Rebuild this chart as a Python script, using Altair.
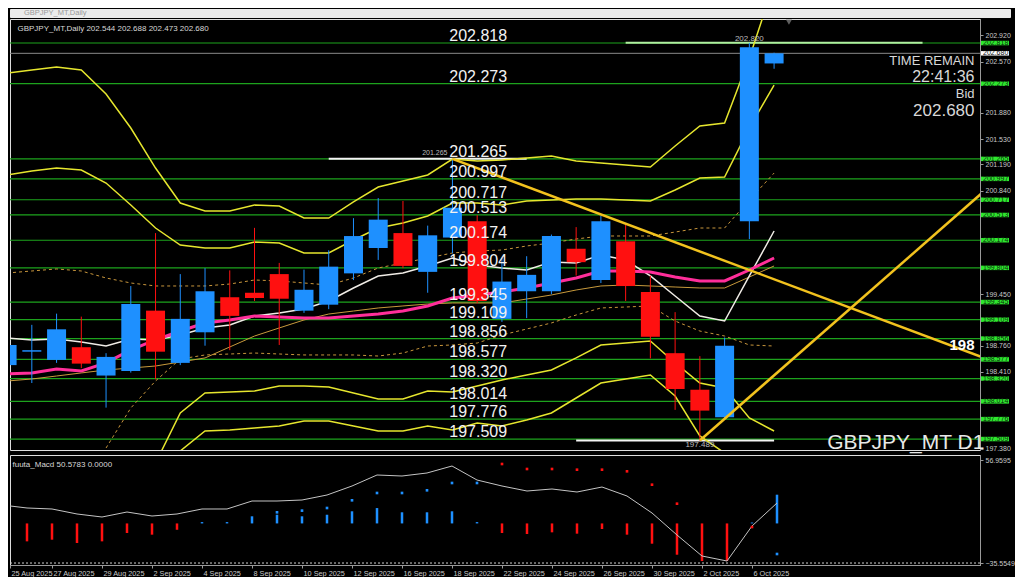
import altair as alt
import pandas as pd

# ---------------- data ----------------
idx = list(range(32))
x_labels = ["25 Aug 2025", "27 Aug 2025", "29 Aug 2025", "2 Sep 2025", "4 Sep 2025",
            "8 Sep 2025", "10 Sep 2025", "12 Sep 2025", "16 Sep 2025", "18 Sep 2025",
            "22 Sep 2025", "24 Sep 2025", "26 Sep 2025", "30 Sep 2025", "2 Oct 2025", "6 Oct 2025"]
x_label_pos = [0.32] + list(range(2, 31, 2))

opens = [198.50, 198.68, 198.57, 198.74, 198.36, 198.42, 199.23, 198.53, 198.94, 199.41, 199.47,
         199.72, 199.23, 199.31, 199.73, 200.07, 200.27, 199.75, 200.21, 200.43, 199.12, 199.49,
         199.49, 200.06, 199.64, 200.16, 199.48, 198.66, 198.17, 197.80, 200.43, 202.544]
highs = [198.85, 199.04, 199.19, 199.15, 198.66, 199.56, 200.27, 199.72, 199.80, 199.77, 200.34,
         199.87, 199.78, 200.04, 200.47, 200.74, 200.70, 200.37, 201.265, 200.51, 199.94, 199.96,
         200.25, 200.35, 200.50, 200.38, 199.70, 199.21, 198.62, 198.87, 202.820, 202.688]
lows = [198.45, 198.26, 198.53, 198.46, 197.93, 198.40, 198.31, 198.50, 198.76, 198.70, 199.36,
        198.77, 199.20, 199.25, 199.64, 199.91, 199.80, 199.47, 200.00, 199.33, 199.08, 199.13,
        199.45, 199.70, 199.60, 199.36, 198.59, 197.90, 197.489, 197.78, 200.19, 202.473]
closes = [198.77, 198.70, 198.98, 198.52, 198.61, 199.32, 198.68, 199.12, 199.49, 199.16, 199.40,
          199.39, 199.51, 199.82, 200.23, 200.45, 199.83, 200.24, 200.61, 199.36, 199.62, 199.71,
          200.23, 199.88, 200.43, 199.56, 198.88, 198.18, 197.89, 198.76, 202.76, 202.680]

bb_up3 = [202.416, 202.456, 202.496, 202.456, 202.134, 201.679, 201.142, 200.673, 200.566, 200.566,
          200.646, 200.633, 200.472, 200.472, 200.687, 200.888, 200.968, 201.049, 201.263, 201.236,
          201.250, 201.277, 201.303, 201.236, 201.209, 201.183, 201.156, 201.437, 201.705, 201.746,
          202.617, 203.622]
bb_up2 = [201.049, 201.102, 201.142, 201.116, 200.941, 200.646, 200.338, 200.110, 200.070, 200.070,
          200.150, 200.137, 200.003, 200.003, 200.177, 200.338, 200.405, 200.499, 200.673, 200.673,
          200.646, 200.700, 200.713, 200.727, 200.727, 200.713, 200.700, 200.847, 201.008, 201.022,
          201.679, 202.255]
bb_dn2 = [196.384, 196.317, 196.250, 196.317, 196.518, 196.786, 197.188, 197.858, 198.126, 198.140,
          198.153, 198.220, 198.220, 198.207, 198.126, 198.046, 198.046, 198.153, 198.140, 198.220,
          198.301, 198.368, 198.435, 198.596, 198.770, 198.796, 198.823, 198.529, 198.260, 198.193,
          197.791, 197.617]
bb_dn3 = [195.311, 195.244, 195.177, 195.244, 195.512, 195.847, 196.518, 197.349, 197.617, 197.630,
          197.657, 197.684, 197.751, 197.751, 197.684, 197.617, 197.617, 197.684, 197.630, 197.724,
          197.684, 197.764, 197.858, 198.059, 198.260, 198.314, 198.368, 198.086, 197.550, 197.322,
          196.826, 196.451]
bb_up1 = [199.735, 199.762, 199.789, 199.762, 199.668, 199.601, 199.561, 199.561, 199.561, 199.587,
          199.641, 199.628, 199.601, 199.574, 199.668, 199.802, 199.869, 199.936, 200.003, 200.030,
          200.043, 200.097, 200.137, 200.191, 200.231, 200.231, 200.231, 200.284, 200.338, 200.338,
          200.713, 201.075]
bb_dn1 = [196.920, 196.853, 196.786, 196.920, 197.389, 197.925, 198.287, 198.582, 198.636, 198.649,
          198.662, 198.649, 198.636, 198.636, 198.636, 198.622, 198.662, 198.756, 198.770, 198.796,
          198.904, 198.984, 199.065, 199.172, 199.266, 199.279, 199.293, 199.091, 198.957, 198.890,
          198.770, 198.756]
ma_brown = [198.287, 198.314, 198.354, 198.395, 198.435, 198.461, 198.488, 198.542, 198.596, 198.743,
            198.890, 198.998, 199.105, 199.185, 199.225, 199.266, 199.293, 199.319, 199.333, 199.333,
            199.333, 199.386, 199.440, 199.507, 199.561, 199.574, 199.561, 199.547, 199.534, 199.534,
            199.681, 199.829]
ma_white = [198.864, 198.837, 198.850, 198.810, 198.756, 198.850, 198.837, 198.904, 198.998, 199.038,
            199.158, 199.199, 199.252, 199.360, 199.534, 199.695, 199.735, 199.829, 199.936, 199.842,
            199.802, 199.775, 199.882, 199.869, 199.976, 199.909, 199.695, 199.427, 199.158, 199.091,
            199.695, 200.298]
ma_pink = [198.381, 198.395, 198.448, 198.421, 198.529, 198.703, 198.837, 198.957, 199.065, 199.105,
           199.158, 199.145, 199.132, 199.132, 199.158, 199.185, 199.225, 199.293, 199.400, 199.440,
           199.480, 199.534, 199.601, 199.668, 199.762, 199.762, 199.748, 199.681, 199.628, 199.628,
           199.775, 199.936]

levels = [202.818, 202.273, 201.265, 200.997, 200.717, 200.513, 200.174, 199.804, 199.345,
          199.109, 198.856, 198.577, 198.320, 198.014, 197.776, 197.509]
bid_price = [202.680]
price_ticks = [202.920, 202.570, 201.880, 201.530, 201.190, 200.840, 199.450, 198.760, 198.410,
               197.380]

seg_start = [13, 23]
seg_end = [21, 31]
seg_price = [201.265, 197.489]
high_seg_start = [25]
high_seg_end = [37]
high_seg_price = [202.820]

trend_id = ["down", "down", "up", "up"]
trend_i = [18, 40, 28, 40]
trend_p = [201.265, 198.533, 197.489, 200.981]

macd_line = [16.55, 13.86, 12.96, 8.47, 5.77, 10.26, 6.67, 8.47, 12.96, 12.96, 20.14, 20.14,
             21.04, 25.53, 33.61, 43.49, 42.59, 45.29, 51.57, 39.00, 33.61, 29.12, 30.92, 28.22,
             32.71, 24.63, 9.37, -10.39, -29.25, -33.74, -2.31, 18.35]
macd_hist = [-11.6, -16.1, -14.6, -17.6, -16.1, -8.6, -10.1, -5.7, 1.2, 1.2, 6.4, 7.8, 6.4, 7.8,
             10.9, 13.8, 10.0, 10.0, 10.9, 1.2, -8.6, -9.5, -8.0, -9.2, -5.0, -10.1, -18.2, -28.1,
             -33.8, -33.8, 0.8, 25.8]
dot_i = [11, 12, 13, 14, 15, 16, 17, 18, 19, 20, 21, 22, 23, 24, 25, 26, 27, 30, 31]
dot_v = [10.0, 11.5, 13.85, 20.77, 27.33, 27.33, 29.75, 36.31, 36.31, 53.37, 48.88, 48.88, 48.25,
         48.25, 46.81, 34.78, 17.72, -3.21, -27.45]
dot_kind = ["b"] * 9 + ["m"] * 8 + ["m", "c"]
macd_marks = [56.9595, -35.5549]

# ---------------- style ----------------
W = 970
MAIN_H = 431
MACD_H = 110
FONT = "Liberation Sans"
GREEN = "#1da31d"
LIME = "#2ee82e"
BLUE = "#1e90ff"
RED = "#ff1010"
YEL = "#e6e62e"
GRAY = "#9a9a9a"
LBL = "#c8c8c8"

xsc = alt.Scale(domain=[0.32, 39.12], nice=False, zero=False)
ysc = alt.Scale(domain=[197.362, 203.140], nice=False, zero=False)
msc = alt.Scale(domain=[-37.33, 61.45], nice=False, zero=False)

yax = alt.Axis(orient="right", values=price_ticks, format=".3f", labelColor=LBL, labelFontSize=7,
               labelFont=FONT, tickColor=GRAY, tickSize=3, domainColor=GRAY, grid=False,
               labelPadding=2, title=None, labelOverlap=False, labelFlush=False)
myax = alt.Axis(orient="right", values=macd_marks, format=".4f", labelColor=LBL, labelFontSize=7,
                labelFont=FONT, tickColor=GRAY, tickSize=3, domainColor=GRAY, grid=False,
                labelPadding=2, title=None, labelOverlap=False, labelFlush=False)
label_expr = "[" + ",".join("'" + s + "'" for s in x_labels) + "][round(datum.value/2)]"
mxax = alt.Axis(values=x_label_pos, labelExpr=label_expr, labelColor=LBL, labelFontSize=7.3,
                labelFont=FONT, labelAlign="left", labelOffset=1, labelPadding=1, tickSize=3,
                tickColor=GRAY, domainColor=GRAY, grid=False, title=None, labelOverlap=False,
                labelFlush=False)


def XF(f):
    return alt.X(f, type="quantitative", scale=xsc, axis=None)


def XD(v):
    return alt.XDatum(v, type="quantitative", scale=xsc, axis=None)


def YF(f):
    return alt.Y(f, type="quantitative", scale=ysc, axis=yax)


def YD(v):
    return alt.YDatum(v, type="quantitative", scale=ysc, axis=yax)


def MXF(f):
    return alt.X(f, type="quantitative", scale=xsc, axis=mxax)


def MXD(v):
    return alt.XDatum(v, type="quantitative", scale=xsc, axis=mxax)


def MYF(f):
    return alt.Y(f, type="quantitative", scale=msc, axis=myax)


def MYD(v):
    return alt.YDatum(v, type="quantitative", scale=msc, axis=myax)


def ind_line(vals, color, width, dash=None):
    df = pd.DataFrame({"i": idx, "v": vals})
    kw = dict(color=color, strokeWidth=width, clip=True)
    if dash:
        kw["strokeDash"] = dash
    return alt.Chart(df).mark_line(**kw).encode(x=XF("i"), y=YF("v"))


def note(text, xi, yp, size, color, align="center", baseline="middle", weight="normal"):
    df = pd.DataFrame({"t": [text]})
    return alt.Chart(df).mark_text(fontSize=size, color=color, align=align, baseline=baseline,
                                   fontWeight=weight, font=FONT).encode(
        x=XD(xi), y=YD(yp), text="t:N")


# ---------------- main panel ----------------
lv_df = pd.DataFrame({"p": levels, "t": [f"{v:.3f}" for v in levels]})
bid_df = pd.DataFrame({"p": bid_price, "t": [f"{v:.3f}" for v in bid_price]})
seg_df = pd.DataFrame({"a": seg_start, "b": seg_end, "p": seg_price})
hseg_df = pd.DataFrame({"a": high_seg_start, "b": high_seg_end, "p": high_seg_price})
tr_df = pd.DataFrame({"k": trend_id, "i": trend_i, "p": trend_p})
cdf = pd.DataFrame({"i": idx, "o": opens, "h": highs, "l": lows, "c": closes})
cdf["d"] = ["up" if c >= o else "down" for o, c in zip(opens, closes)]
ccol = alt.Color("d:N", scale=alt.Scale(domain=["up", "down"], range=[BLUE, RED]), legend=None)

BOX = "M-1,-0.16L1,-0.16L1,0.16L-1,0.16Z"

layers = [
    alt.Chart(lv_df).mark_rule(color=GREEN, strokeWidth=1.2).encode(y=YF("p")),
    alt.Chart(bid_df).mark_rule(color="#8a8a8a", strokeWidth=1).encode(y=YF("p")),
    alt.Chart(hseg_df).mark_rule(color="#b0eea0", strokeWidth=2, clip=True).encode(
        x=XF("a"), x2="b", y=YF("p")),
    alt.Chart(seg_df).mark_rule(color="#f4f4f4", strokeWidth=2, clip=True).encode(
        x=XF("a"), x2="b", y=YF("p")),
    ind_line(bb_up3, YEL, 1.5),
    ind_line(bb_up2, YEL, 1.5),
    ind_line(bb_dn2, YEL, 1.5),
    ind_line(bb_dn3, YEL, 1.5),
    ind_line(bb_up1, "#c8963c", 1, [3, 3]),
    ind_line(bb_dn1, "#c8963c", 1, [3, 3]),
    ind_line(ma_brown, "#c89a3c", 1),
    ind_line(ma_white, "#f0ece6", 1.5),
    ind_line(ma_pink, "#ff2e9a", 3),
    alt.Chart(cdf).mark_rule(strokeWidth=1, clip=True).encode(
        x=XF("i"), y=YF("l"), y2="h", color=ccol),
    alt.Chart(cdf).mark_bar(size=19, clip=True).encode(
        x=XF("i"), y=YF("o"), y2="c", color=ccol),
    alt.Chart(tr_df).mark_line(color="#f2c21e", strokeWidth=2.5, clip=True).encode(
        x=XF("i"), y=YF("p"), detail="k:N"),
    alt.Chart(lv_df).mark_text(color="#f2f2f2", fontSize=16, align="center",
                               baseline="alphabetic", dy=-2, font=FONT).encode(
        x=XD(19.04), y=YF("p"), text="t:N"),
    note("202.820", 30, 202.87, 8, "#bdbdbd"),
    note("201.265", 17.8, 201.34, 7, "#bdbdbd", align="right"),
    note("197.489", 28, 197.43, 8, "#bdbdbd"),
    note("198", 39.1, 198.77, 15, "#ffffff", align="right", weight="bold"),
    note("TIME REMAIN", 39.1, 202.577, 13, "#d8d8d8", align="right"),
    note("22:41:36", 39.1, 202.356, 16, "#d8d8d8", align="right"),
    note("Bid", 39.1, 202.135, 13, "#d8d8d8", align="right"),
    note("202.680", 39.1, 201.907, 17, "#d8d8d8", align="right"),
    note("GBPJPY_MT D1", 39.5, 197.37, 21, "#e8e8e8", align="right", baseline="alphabetic"),
    note("GBPJPY_MT,Daily  202.544 202.688 202.473 202.680", 0.42, 203.006, 8, "#d8d8d8",
         align="left"),
    alt.Chart(pd.DataFrame({"t": ["v"]})).mark_point(shape="triangle-down", size=40, filled=True,
                                                     color="#8a8a8a").encode(
        x=XD(31.6), y=YD(203.10)),
    alt.Chart(lv_df).mark_point(shape=BOX, size=784, filled=True, color=LIME, opacity=1).encode(
        x=alt.value(W + 15), y=YF("p")),
    alt.Chart(lv_df).mark_text(align="left", baseline="middle", fontSize=7, color="#0b2b0b",
                               font=FONT).encode(x=alt.value(W + 3), y=YF("p"), text="t:N"),
    alt.Chart(bid_df).mark_point(shape=BOX, size=784, filled=True, color="#ffffff", opacity=1).encode(
        x=alt.value(W + 15), y=YF("p")),
    alt.Chart(bid_df).mark_text(align="left", baseline="middle", fontSize=7, color="#111111",
                                font=FONT).encode(x=alt.value(W + 3), y=YF("p"), text="t:N"),
]
main = alt.layer(*layers).properties(width=W, height=MAIN_H)

# ---------------- MACD panel ----------------
mdf = pd.DataFrame({"i": idx, "m": macd_line, "h": macd_hist})
mdf["s"] = ["pos" if v >= 0 else "neg" for v in macd_hist]
ddf = pd.DataFrame({"i": dot_i, "v": dot_v, "k": dot_kind})
mk_df = pd.DataFrame({"v": [macd_marks[1]]})

macd = alt.layer(
    alt.Chart(mk_df).mark_rule(color="#d0d0d0", strokeDash=[2, 2], strokeWidth=1).encode(y=MYF("v")),
    alt.Chart(mdf).mark_rule(strokeWidth=2.5, clip=True).encode(
        x=MXF("i"), y=MYF("h"), y2=alt.datum(0),
        color=alt.Color("s:N", scale=alt.Scale(domain=["pos", "neg"], range=["#2f8fff", "#ff1a1a"]),
                        legend=None)),
    alt.Chart(mdf).mark_line(color="#c4c4c4", strokeWidth=1, clip=True).encode(x=MXF("i"), y=MYF("m")),
    alt.Chart(ddf).mark_square(size=7, opacity=1, clip=True).encode(
        x=MXF("i"), y=MYF("v"),
        color=alt.Color("k:N", scale=alt.Scale(domain=["b", "m", "c"],
                                                range=["#3a9ae0", "#d0306e", "#30b0c8"]),
                        legend=None)),
    alt.Chart(pd.DataFrame({"t": ["fuuta_Macd 50.5783   0.0000"]})).mark_text(
        align="left", baseline="middle", fontSize=8, color="#d8d8d8", font=FONT).encode(
        x=MXD(0.42), y=MYD(52.47), text="t:N"),
).properties(width=W, height=MACD_H)

# ---------------- window title bar ----------------
titlebar = alt.Chart(pd.DataFrame({"t": ["GBPJPY_MT,Daily"]})).mark_text(
    align="left", baseline="middle", fontSize=7.5, color="#9a9a9a", font=FONT).encode(
    x=alt.value(14), y=alt.value(4), text="t:N").properties(
    width=1000, height=8, view=alt.ViewBackground(fill="#ebebeb", stroke="#ebebeb"))

chart = alt.vconcat(titlebar, main, macd, spacing=0).properties(
    background="#000000", padding=0).configure_view(stroke="#7a7a7a").configure(font=FONT)

chart.save("out.html", embed_options={"renderer": "svg", "actions": False})
